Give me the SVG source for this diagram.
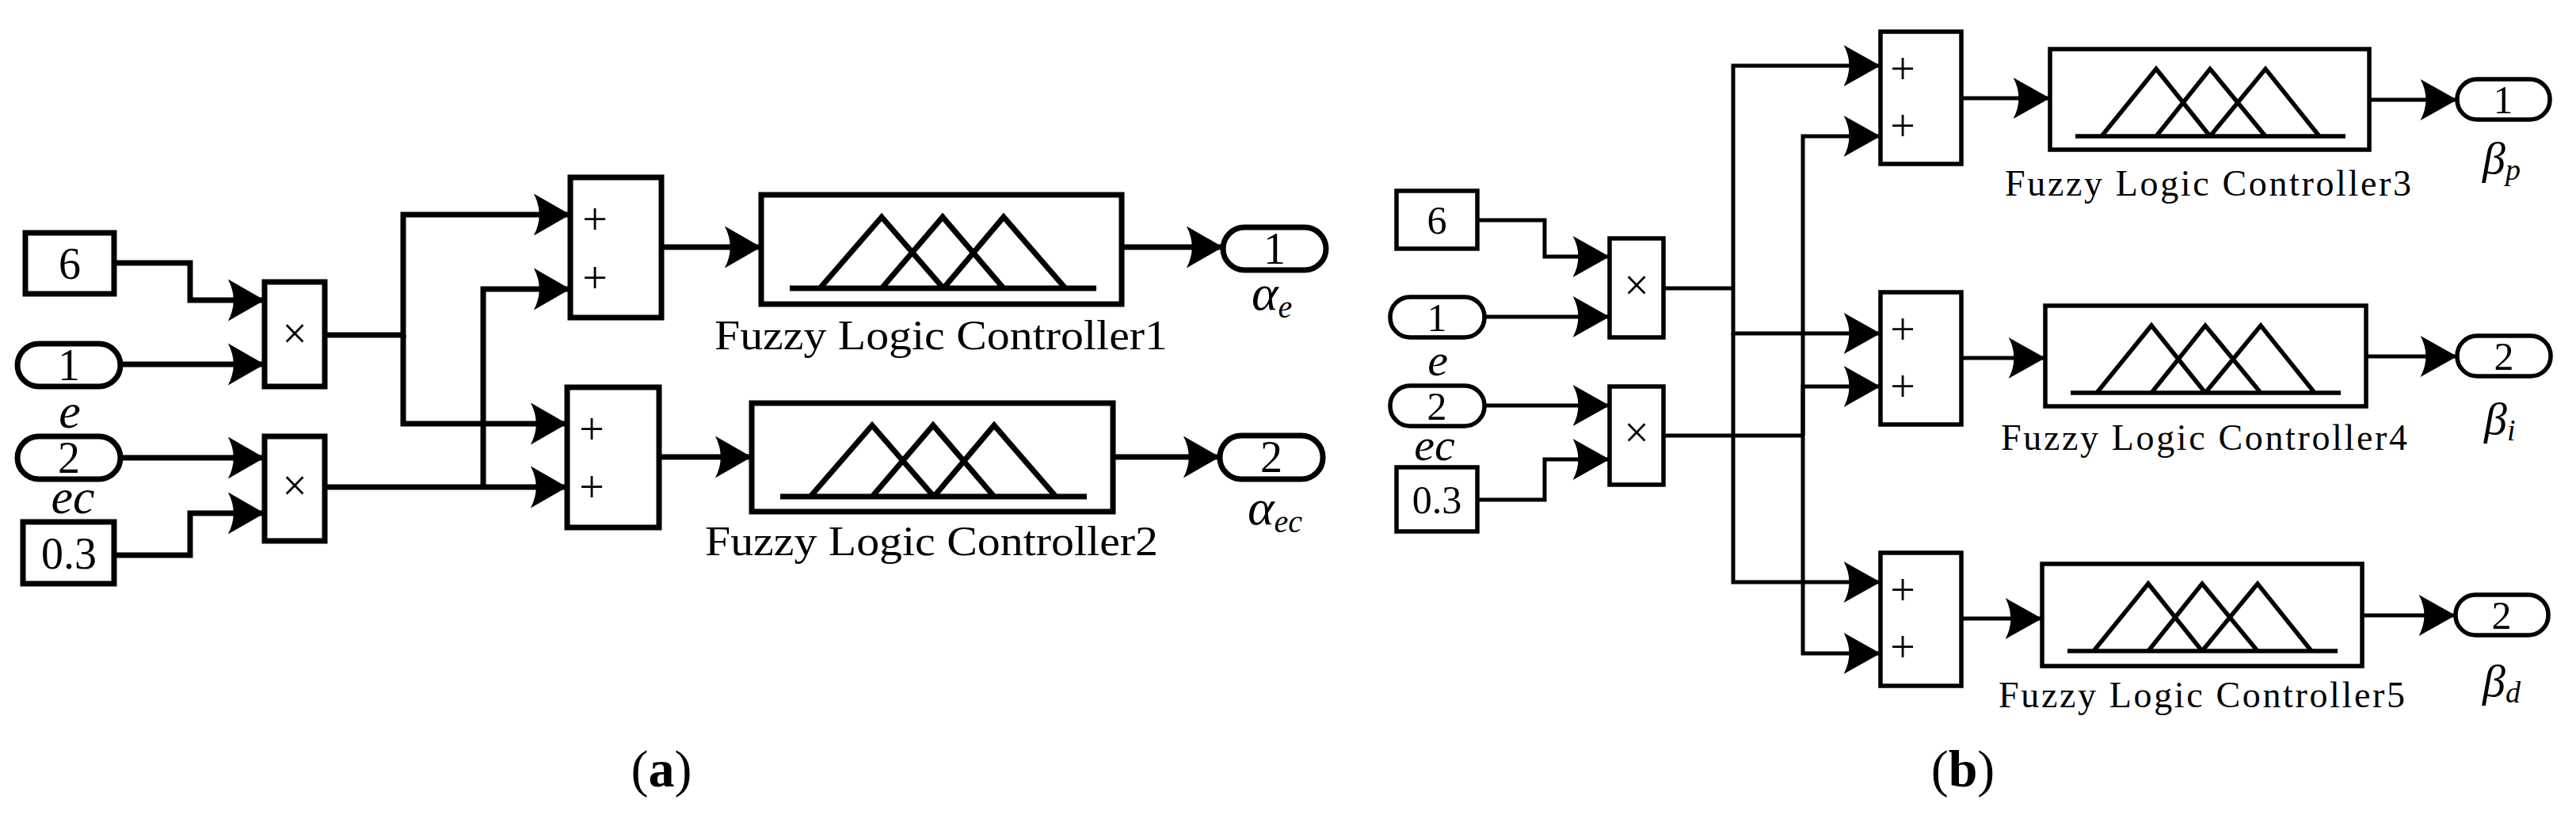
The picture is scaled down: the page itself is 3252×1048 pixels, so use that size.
<svg xmlns="http://www.w3.org/2000/svg" width="3252" height="1048" viewBox="0 0 3252 1048">
<style>
.a{fill:none;stroke:#000;stroke-width:7;stroke-linejoin:miter}
.b{fill:none;stroke:#000;stroke-width:5.5;stroke-linejoin:miter}
.ca{fill:none;stroke:#000;stroke-width:7;marker-end:url(#arA)}
.cb{fill:none;stroke:#000;stroke-width:5;marker-end:url(#arB)}
.l{fill:none;stroke:#000;stroke-width:7}
.lb{fill:none;stroke:#000;stroke-width:5}
text{font-family:"Liberation Serif","Times New Roman",serif;fill:#000}
.n{font-size:56px;text-anchor:middle}
.nb{font-size:50px;text-anchor:middle}
.op{font-size:56px;text-anchor:middle}
.i{font-style:italic}
</style>
<defs>
<marker id="arA" markerUnits="userSpaceOnUse" markerWidth="60" markerHeight="60" viewBox="-42 -26 46 52" refX="0" refY="0" orient="auto"><path d="M0,0 L-40,-23 Q-28,0 -40,23 Z" fill="#000"/></marker>
<marker id="arB" markerUnits="userSpaceOnUse" markerWidth="60" markerHeight="60" viewBox="-36 -22 40 44" refX="0" refY="0" orient="auto"><path d="M0,0 L-34,-19 Q-24,0 -34,19 Z" fill="#000"/></marker>
<g id="mfA" class="a"><path d="M36,118 H423 M74,118 L152,28 L230,118 M152,118 L229,28 L306,118 M230,118 L306,28 L384,118"/></g>
<g id="mfB" class="b"><path d="M32,110 H373 M65,110 L134,25 L202,110 M134,110 L202,25 L272,110 M202,110 L272,25 L340,110"/></g>
</defs>

<g id="connectors">
<path class="ca" d="M144,332 H240 V379 H334"/>
<path class="ca" d="M152,460 H334"/>
<path class="ca" d="M152,578 H334"/>
<path class="ca" d="M144,701 H240 V648 H334"/>
<path class="ca" d="M410,423 H509 V271 H720"/>
<path class="ca" d="M509,423 V535 H716"/>
<path class="ca" d="M410,615 H716"/>
<path class="ca" d="M610,615 V365 H720"/>
<path class="ca" d="M835,312 H961"/>
<path class="ca" d="M832,577 H949"/>
<path class="ca" d="M1416,312 H1544"/>
<path class="ca" d="M1405,577 H1540"/>

<path class="cb" d="M1865,278 H1950 V324 H2032"/>
<path class="cb" d="M1874,400 H2032"/>
<path class="cb" d="M1874,512 H2032"/>
<path class="cb" d="M1865,631 H1950 V580 H2032"/>
<path class="lb" d="M2100,364 H2188"/>
<path class="cb" d="M2188,364 V83 H2374"/>
<path class="cb" d="M2188,364 V421 H2374"/>
<path class="cb" d="M2188,421 V735 H2374"/>
<path class="lb" d="M2100,550 H2276"/>
<path class="cb" d="M2276,550 V172 H2374"/>
<path class="cb" d="M2276,550 V488 H2374"/>
<path class="cb" d="M2276,550 V825 H2374"/>
<path class="cb" d="M2476,124 H2588"/>
<path class="cb" d="M2476,452 H2582"/>
<path class="cb" d="M2476,781 H2578"/>
<path class="cb" d="M2991,126 H3102"/>
<path class="cb" d="M2987,450 H3102"/>
<path class="cb" d="M2982,777 H3100"/>
</g>

<!-- Panel a -->
<g id="constA6"><rect class="a" x="32" y="294" width="112" height="77"/><text class="n" x="88" y="352">6</text></g>
<g id="inA1"><rect class="a" x="22" y="434" width="130" height="54" rx="27"/><text class="n" x="87" y="480">1</text><text class="i" x="88" y="540" font-size="62" text-anchor="middle">e</text></g>
<g id="inA2"><rect class="a" x="22" y="551" width="130" height="54" rx="27"/><text class="n" x="87" y="597">2</text><text class="i" x="92" y="648" font-size="62" text-anchor="middle">ec</text></g>
<g id="constA03"><rect class="a" x="29" y="659" width="115" height="78"/><text class="n" x="87" y="718">0.3</text></g>
<g id="multA1"><rect class="a" x="334" y="356" width="76" height="132"/><text class="op" x="372" y="440" font-size="46">×</text></g>
<g id="multA2"><rect class="a" x="334" y="551" width="76" height="132"/><text class="op" x="372" y="632" font-size="46">×</text></g>
<g id="sumA1"><rect class="a" x="720" y="224" width="115" height="177"/><text class="op" x="751" y="296">+</text><text class="op" x="751" y="370">+</text></g>
<g id="sumA2"><rect class="a" x="716" y="489" width="116" height="177"/><text class="op" x="747" y="561">+</text><text class="op" x="747" y="634">+</text></g>
<g id="flc1"><rect class="a" x="961" y="246" width="455" height="138"/><use href="#mfA" x="961" y="246"/><text x="902" y="441" font-size="52" textLength="572" lengthAdjust="spacingAndGlyphs">Fuzzy Logic Controller1</text></g>
<g id="flc2"><rect class="a" x="949" y="509" width="456" height="137"/><use href="#mfA" x="949" y="509"/><text x="890" y="701" font-size="52" textLength="572" lengthAdjust="spacingAndGlyphs">Fuzzy Logic Controller2</text></g>
<g id="outA1"><rect class="a" x="1544" y="287" width="130" height="54" rx="27"/><text class="n" x="1609" y="333">1</text><text class="i" x="1580" y="391" font-size="64">α<tspan font-size="40" dy="10">e</tspan></text></g>
<g id="outA2"><rect class="a" x="1540" y="550" width="130" height="55" rx="27"/><text class="n" x="1605" y="596">2</text><text class="i" x="1575" y="662" font-size="64">α<tspan font-size="40" dy="10">ec</tspan></text></g>
<text x="835" y="993" font-size="66" text-anchor="middle">(<tspan font-weight="bold">a</tspan>)</text>

<!-- Panel b -->
<g id="constB6"><rect class="b" x="1763" y="241" width="102" height="73"/><text class="nb" x="1814" y="295">6</text></g>
<g id="inB1"><rect class="b" x="1755" y="375" width="119" height="51" rx="25"/><text class="nb" x="1814" y="418">1</text><text class="i" x="1815" y="474" font-size="58" text-anchor="middle">e</text></g>
<g id="inB2"><rect class="b" x="1755" y="487" width="119" height="51" rx="25"/><text class="nb" x="1814" y="530">2</text><text class="i" x="1811" y="581" font-size="58" text-anchor="middle">ec</text></g>
<g id="constB03"><rect class="b" x="1763" y="590" width="102" height="81"/><text class="nb" x="1814" y="648">0.3</text></g>
<g id="multB1"><rect class="b" x="2032" y="301" width="68" height="125"/><text class="op" x="2066" y="379" font-size="40">×</text></g>
<g id="multB2"><rect class="b" x="2032" y="488" width="68" height="124"/><text class="op" x="2066" y="565" font-size="40">×</text></g>
<g id="sumB3"><rect class="b" x="2374" y="40" width="102" height="167"/><text class="op" x="2402" y="106" font-size="50">+</text><text class="op" x="2402" y="178" font-size="50">+</text></g>
<g id="sumB4"><rect class="b" x="2374" y="369" width="102" height="167"/><text class="op" x="2402" y="435" font-size="50">+</text><text class="op" x="2402" y="507" font-size="50">+</text></g>
<g id="sumB5"><rect class="b" x="2374" y="698" width="102" height="168"/><text class="op" x="2402" y="764" font-size="50">+</text><text class="op" x="2402" y="836" font-size="50">+</text></g>
<g id="flc3"><rect class="b" x="2588" y="62" width="403" height="127"/><use href="#mfB" x="2588" y="62"/><text x="2531" y="247" font-size="46" textLength="513" lengthAdjust="spacing">Fuzzy Logic Controller3</text></g>
<g id="flc4"><rect class="b" x="2582" y="386" width="405" height="127"/><use href="#mfB" x="2582" y="386"/><text x="2526" y="568" font-size="46" textLength="513" lengthAdjust="spacing">Fuzzy Logic Controller4</text></g>
<g id="flc5"><rect class="b" x="2578" y="712" width="404" height="129"/><use href="#mfB" x="2578" y="712"/><text x="2523" y="893" font-size="46" textLength="513" lengthAdjust="spacing">Fuzzy Logic Controller5</text></g>
<g id="outB1"><rect class="b" x="3102" y="100" width="117" height="51" rx="25"/><text class="nb" x="3160" y="143">1</text><text class="i" x="3134" y="219" font-size="58">β<tspan font-size="38" dy="8">p</tspan></text></g>
<g id="outB2"><rect class="b" x="3102" y="424" width="118" height="51" rx="25"/><text class="nb" x="3161" y="467">2</text><text class="i" x="3136" y="548" font-size="58">β<tspan font-size="38" dy="8">i</tspan></text></g>
<g id="outB3"><rect class="b" x="3100" y="751" width="117" height="51" rx="25"/><text class="nb" x="3158" y="794">2</text><text class="i" x="3134" y="879" font-size="58">β<tspan font-size="38" dy="8">d</tspan></text></g>
<text x="2478" y="993" font-size="66" text-anchor="middle">(<tspan font-weight="bold">b</tspan>)</text>
</svg>
